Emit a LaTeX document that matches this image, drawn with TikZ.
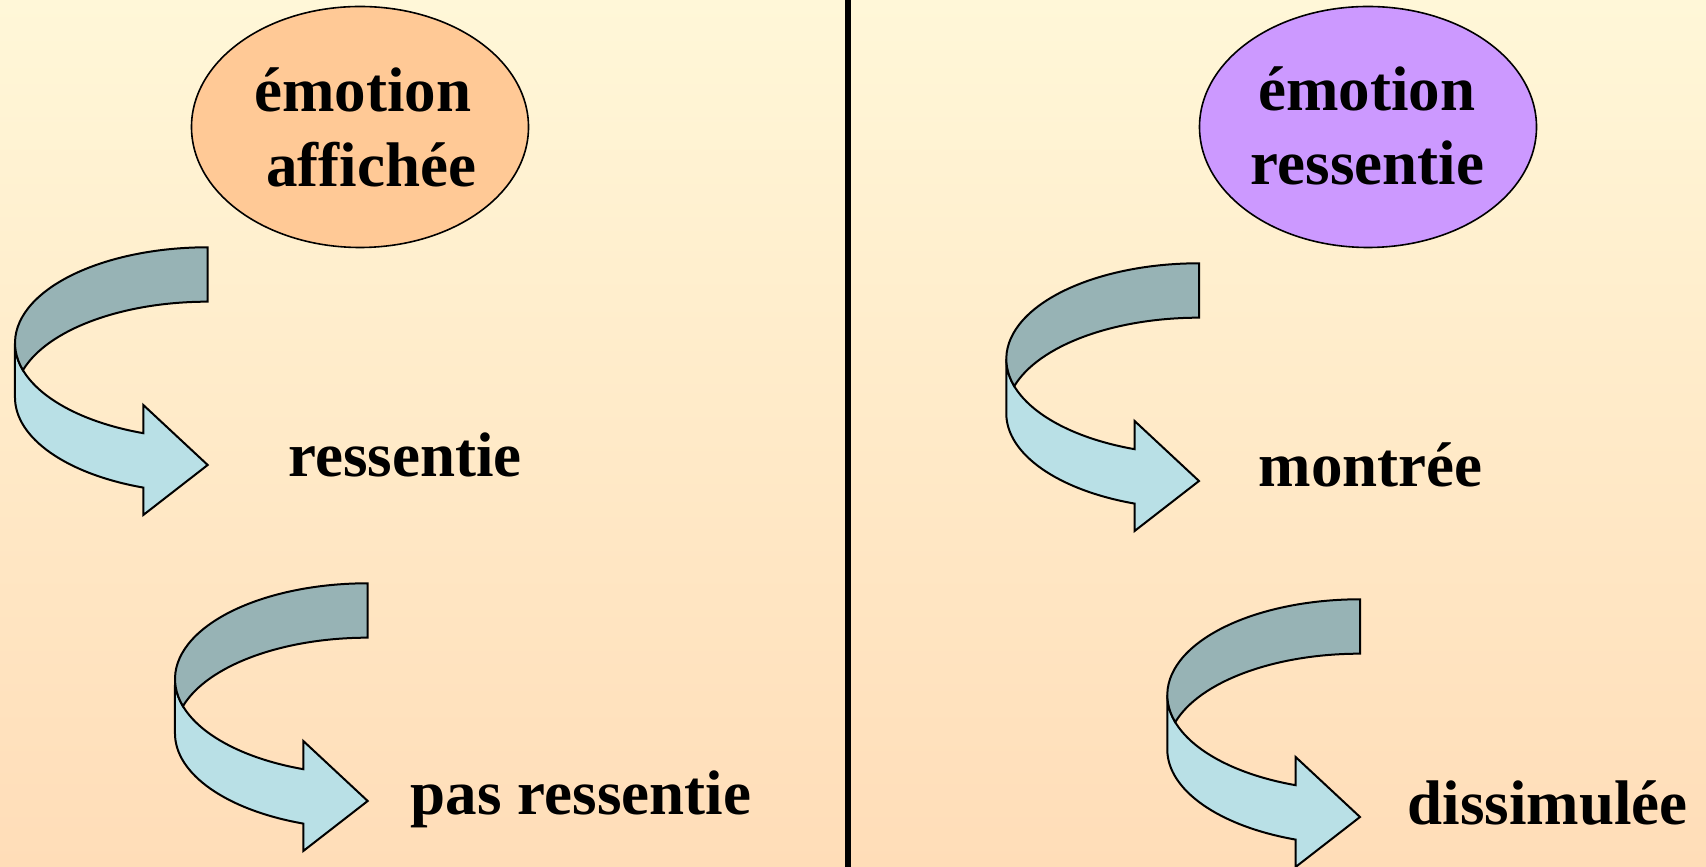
\documentclass[tikz,border=0pt]{standalone}
\usepackage{fontspec}
\setmainfont{Liberation Serif}
\usetikzlibrary{shapes.geometric}

\definecolor{bgtop}{RGB}{255,247,216}
\definecolor{bgbot}{RGB}{255,221,184}
\definecolor{peach}{RGB}{255,201,150}
\definecolor{lavender}{RGB}{204,153,255}
\definecolor{ribbondark}{RGB}{151,179,181}
\definecolor{ribbonlight}{RGB}{185,224,230}

\tikzset{
  bubble/.style={ellipse, draw=black, line width=1.6pt, inner sep=0pt,
    minimum width=337pt, minimum height=241pt},
  lbl/.style={anchor=base, inner sep=0pt, text=black,
    font=\bfseries\fontsize{63}{75}\selectfont},
  ribbonline/.style={draw=black, line width=2pt, line join=miter},
  % curved ribbon arrow; origin = centre of the upper ellipse of the ribbon
  pics/ribbonarrow/.style={code={
    \filldraw[ribbonline, fill=ribbonlight]
      (-192.7,0) arc[start angle=180, end angle=250.48, x radius=192.7pt, y radius=95.7pt]
      -- (-64.4,-62) -- (0,-122) -- (-64.4,-172) -- (-64.4,-144.6)
      arc[start angle=250.48, end angle=180, x radius=192.7pt, y radius=95.7pt]
      -- cycle;
    \filldraw[ribbonline, fill=ribbondark]
      (0,95.7) arc[start angle=90, end angle=196.51, x radius=192.7pt, y radius=95.7pt]
      arc[start angle=163.49, end angle=90, x radius=192.7pt, y radius=95.7pt]
      -- cycle;
  }}
}

\begin{document}
\begin{tikzpicture}[x=1pt,y=1pt]
\useasboundingbox (0,0) rectangle (1706,867);
\shade[top color=bgtop, bottom color=bgbot] (0,0) rectangle (1706,867);

% divider between the two halves
\coordinate (divtop) at (848,867);
\coordinate (divbot) at (848,0);
\draw[line width=6pt] (divtop) -- (divbot);

% left half
\node[bubble, fill=peach] (shown) at (360,740) {};
\node[lbl] (shownA) at (363,755) {émotion};
\node[lbl] (shownB) at (371,680) {affichée};

\pic at (207.7,524) {ribbonarrow};
\node[lbl] (felt) at (405,390.3) {ressentie};

\pic at (367.7,188) {ribbonarrow};
\node[lbl] (notfelt) at (581,52) {pas ressentie};

% right half
\node[bubble, fill=lavender] (inner) at (1368,740) {};
\node[lbl] (innerA) at (1367,756) {émotion};
\node[lbl] (innerB) at (1367.5,682) {ressentie};

\pic at (1199,508) {ribbonarrow};
\node[lbl] (shownout) at (1370.5,380.3) {montrée};

\pic at (1360,172) {ribbonarrow};
\node[lbl] (hidden) at (1547.5,42) {dissimulée};
\end{tikzpicture}
\end{document}
